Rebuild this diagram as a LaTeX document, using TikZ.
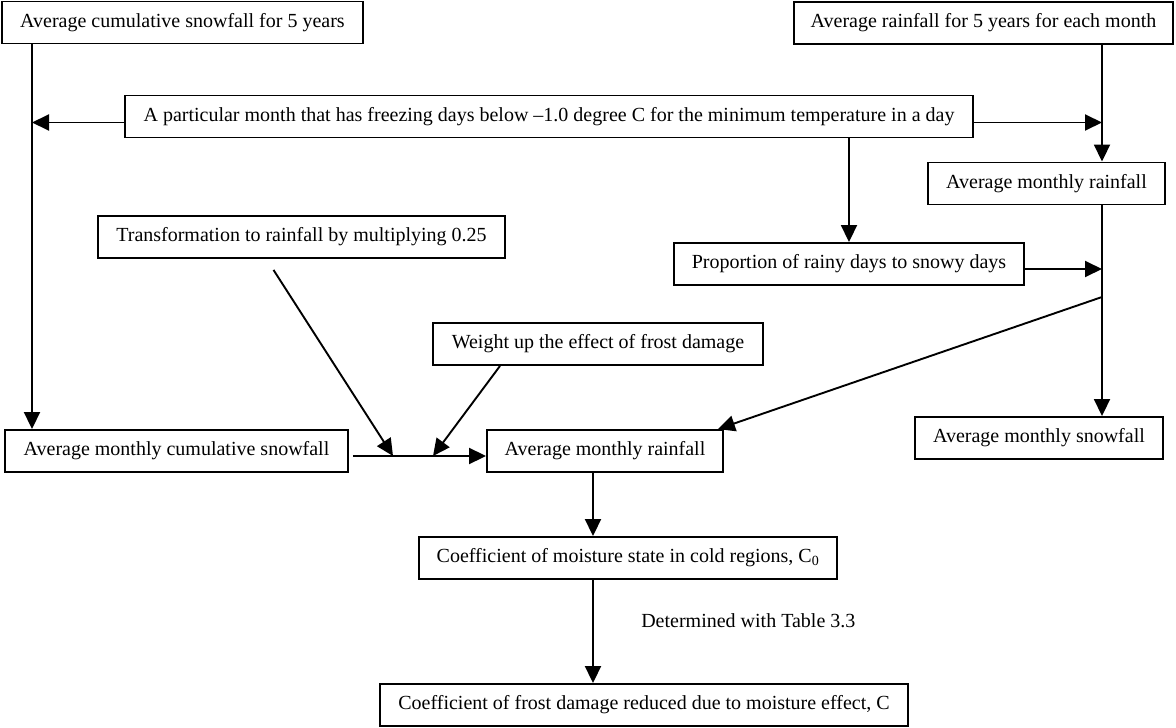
\documentclass[tikz,border=0pt]{standalone}
\usepackage{fontspec}
\setmainfont{Liberation Serif}
\usetikzlibrary{arrows.meta}

\begin{document}
\begin{tikzpicture}[x=1pt,y=-1pt,->,>={Triangle[length=17pt,width=16pt]},line width=1.9pt,
    box/.style={draw,rectangle,minimum height=42pt,inner xsep=0pt,font=\fontsize{20pt}{24pt}\selectfont},
    lbl/.style={font=\fontsize{20pt}{24pt}\selectfont}]
\useasboundingbox (0,0) rectangle (1176,728);

            \node[box, minimum width=361pt] (1) at (182.5,22.5) {Average cumulative snowfall for 5 years};
            \node[box, minimum width=379pt] (2) at (983.5,23) {Average rainfall for 5 years for each month};
            \node[box, minimum width=848pt] (3) at (549,116.5) {A particular month that has freezing days below --1.0 degree C for the minimum temperature in a day};
            \node[box, minimum width=237pt] (4) at (1046.5,183.5) {Average monthly rainfall};
            \node[box, minimum width=350pt] (5) at (849,264) {Proportion of rainy days to snowy days};
            \node[box, minimum width=407pt] (6) at (301.5,237) {Transformation to rainfall by multiplying 0.25};
            \node[box, minimum width=330pt] (7) at (598,344) {Weight up the effect of frost damage};
            \node[box, minimum width=343pt] (8) at (176.5,451) {Average monthly cumulative snowfall};
            \node[box, minimum width=236pt] (9) at (605,451) {Average monthly rainfall};
            \node[box, minimum width=248pt] (10) at (1039,438) {Average monthly snowfall};
            \node[box, minimum width=418pt] (11) at (628,558) {Coefficient of moisture state in cold regions, C\textsubscript{0}};
            \node[box, minimum width=528pt] (12) at (644,705) {Coefficient of frost damage reduced due to moisture effect, C};

            % junctions on the lines
            \coordinate (a) at (32,122.5);
            \coordinate (b) at (1102,122.5);
            \coordinate (c) at (1102,269);
            \coordinate (d) at (1102,297);
            \coordinate (e) at (393,456);
            \coordinate (f) at (433,456);
            \coordinate (g) at (593,0);

            \path
                (1.south -| a) edge (8.north -| a)
                ([yshift=-6pt]3.west) edge (a)
                ([yshift=-6pt]3.east) edge (b)
                (2.south -| b) edge (4.north -| b)
                (5.north |- 3.south) edge (5.north)
                ([yshift=-5pt]5.east) edge (c)
                (4.south -| b) edge (10.north -| b)
                (d) edge ([xshift=-6pt]9.north east)
                ([shift={(-28pt,-11pt)}]6.south) edge (e)
                ([xshift=-98pt]7.south) edge (f)
                ([shift={(4pt,-5pt)}]8.east) edge ([yshift=-5pt]9.west)
                (9.south -| g) edge (11.north -| g)
                (11.south -| g) edge node[lbl, right=44pt, pos=0.4]{Determined with Table 3.3} (12.north -| g)
                ;
        \end{tikzpicture}
\end{document}
